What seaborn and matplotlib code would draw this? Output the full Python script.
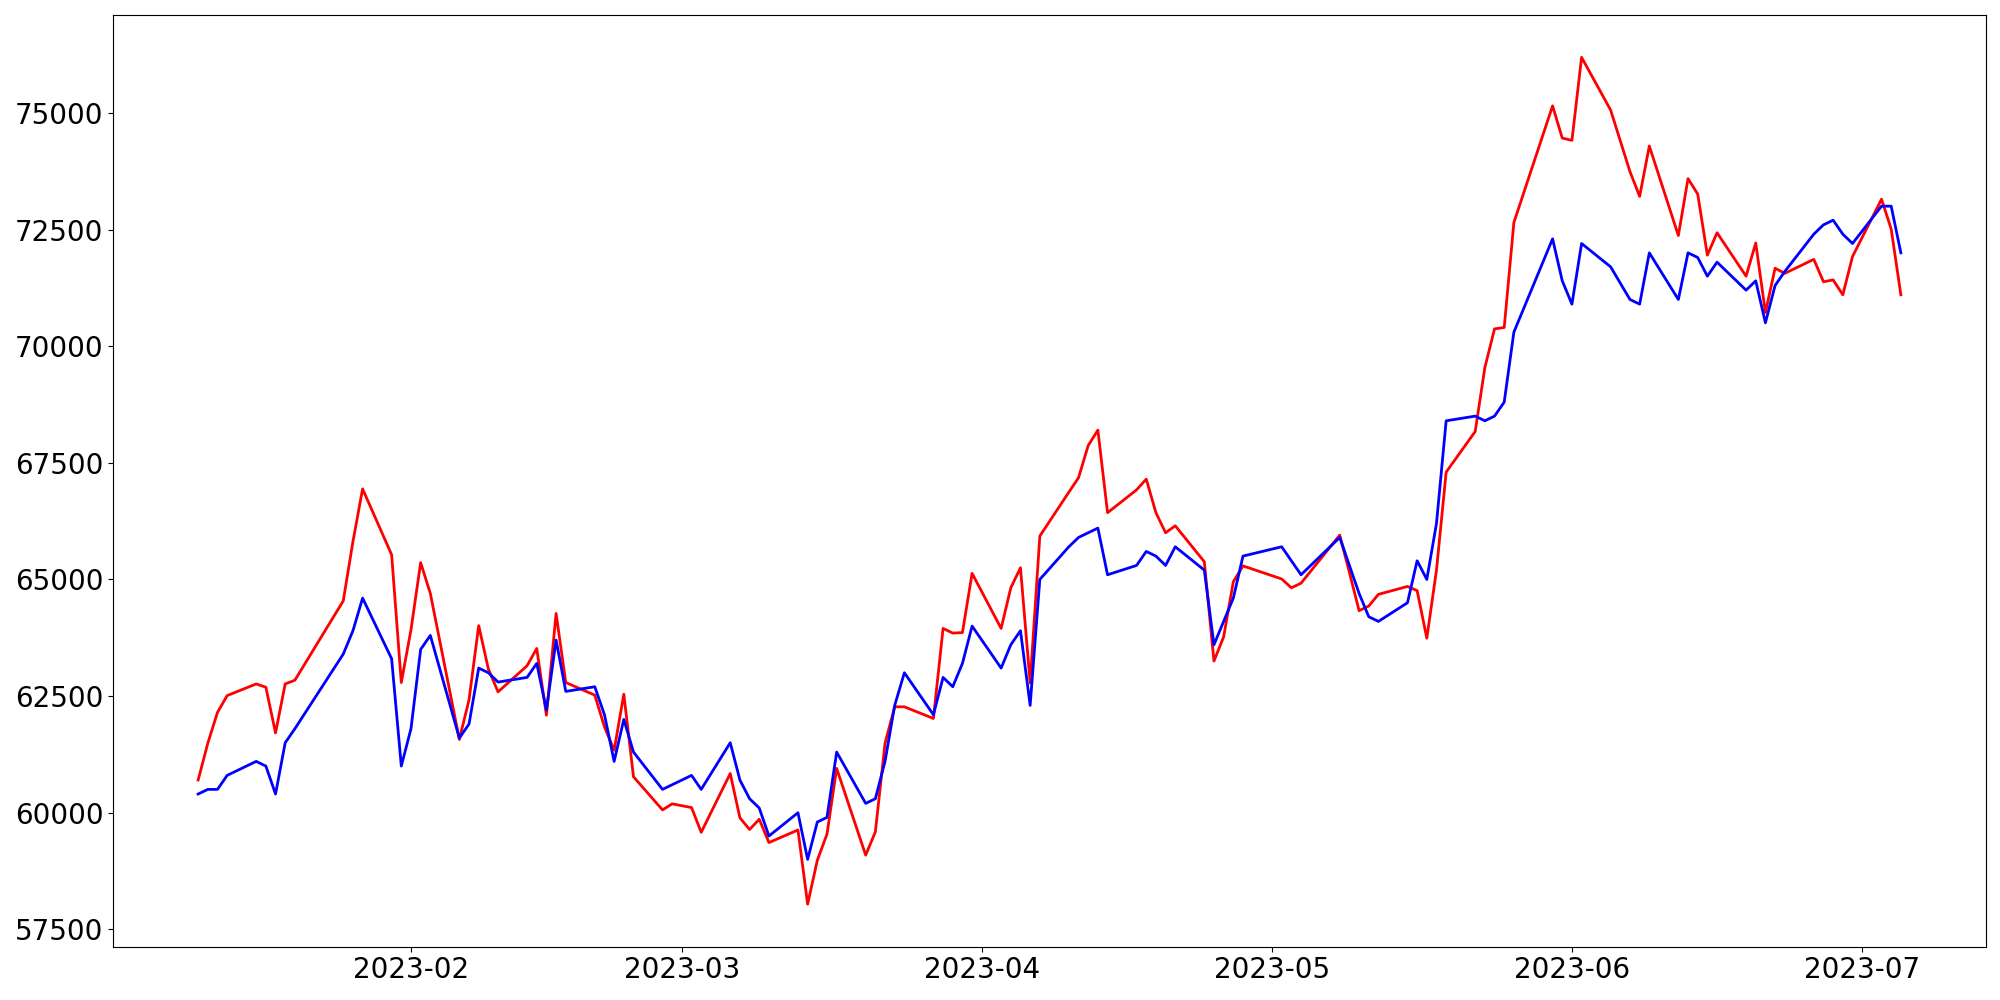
import numpy as np
import pandas as pd
import matplotlib
matplotlib.use("Agg")
import matplotlib.pyplot as plt
import seaborn as sns

# Trading days (KRX, 2023-01-10 .. 2023-07-05)
holidays = ["2023-01-23", "2023-01-24", "2023-03-01", "2023-05-01",
            "2023-05-05", "2023-05-29", "2023-06-06"]
dates = [d for d in pd.bdate_range("2023-01-10", "2023-07-05")
         if d.strftime("%Y-%m-%d") not in holidays]

red_values = [
    # Jan
    60700, 61490, 62150, 62510, 62760, 62690, 61710, 62760, 62840, 64540,
    65810, 66940, 65530, 62790,
    # Feb
    63920, 65360, 64700, 61570, 62420, 64010, 63080, 62590, 63150, 63520,
    62090, 64270, 62790, 62520, 61840, 61340, 62540, 60770, 60060, 60190,
    # Mar
    60110, 59580, 60840, 59890, 59640, 59860, 59360, 59630, 58040, 58980,
    59540, 60950, 59090, 59590, 61490, 62270, 62270, 62020, 63950, 63850,
    63860, 65130,
    # Apr
    63950, 64820, 65250, 62780, 65930, 66870, 67180, 67870, 68200, 66430,
    66920, 67150, 66430, 66000, 66150, 65380, 63250, 63770, 64950, 65290,
    # May
    65010, 64820, 64920, 65950, 65150, 64330, 64430, 64680, 64850, 64760,
    63740, 65200, 67300, 68170, 69540, 70370, 70400, 72650, 75150, 74460,
    # Jun
    74410, 76190, 75060, 73740, 73210, 74290, 72370, 73590, 73260, 71950,
    72430, 71500, 72210, 70720, 71670, 71560, 71860, 71380, 71420, 71100,
    71920,
    # Jul
    73150, 72510, 71100,
]

blue_values = [
    # Jan
    60400, 60500, 60500, 60800, 61100, 61000, 60400, 61500, 61800, 63400,
    63900, 64600, 63300, 61000,
    # Feb
    61800, 63500, 63800, 61600, 61900, 63100, 63000, 62800, 62900, 63200,
    62200, 63700, 62600, 62700, 62100, 61100, 62000, 61300, 60500, 60600,
    # Mar
    60800, 60500, 61500, 60700, 60300, 60100, 59500, 60000, 59000, 59800,
    59900, 61300, 60200, 60300, 61100, 62300, 63000, 62100, 62900, 62700,
    63200, 64000,
    # Apr
    63100, 63600, 63900, 62300, 65000, 65700, 65900, 66000, 66100, 65100,
    65300, 65600, 65500, 65300, 65700, 65200, 63600, 64100, 64600, 65500,
    # May
    65700, 65400, 65100, 65900, 65300, 64700, 64200, 64100, 64500, 65400,
    65000, 66200, 68400, 68500, 68400, 68500, 68800, 70300, 72300, 71400,
    # Jun
    70900, 72200, 71700, 71000, 70900, 72000, 71000, 72000, 71900, 71500,
    71800, 71200, 71400, 70500, 71300, 71600, 72400, 72600, 72700, 72400,
    72200,
    # Jul
    73000, 73000, 72000,
]

df = pd.DataFrame({"date": dates, "red": red_values, "blue": blue_values})

fig, ax = plt.subplots(figsize=(20, 10), dpi=100)
fig.subplots_adjust(left=0.0565, right=0.993, top=0.985, bottom=0.0535)

sns.lineplot(data=df, x="date", y="red", color="red", linewidth=2, ax=ax)
sns.lineplot(data=df, x="date", y="blue", color="blue", linewidth=2, ax=ax)

ax.set_xlabel("")
ax.set_ylabel("")
ax.tick_params(axis="both", labelsize=20)

fig.savefig("out.png", dpi=100)
